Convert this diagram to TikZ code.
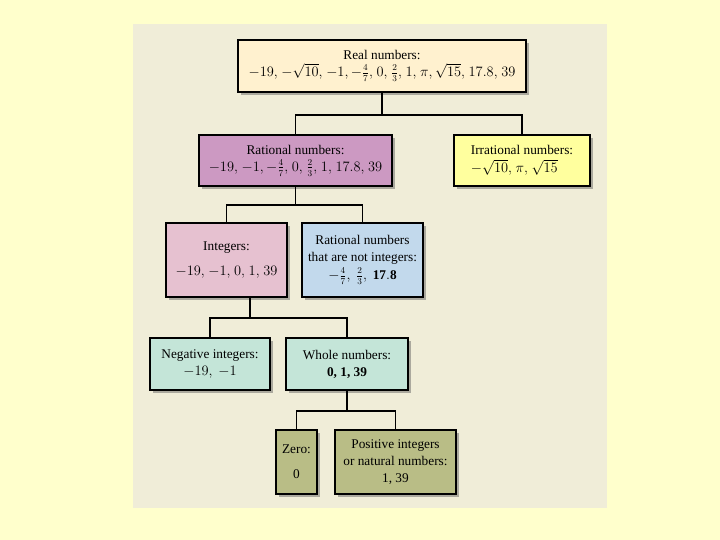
\documentclass[tikz,border=0pt]{standalone}
\usepackage{amsmath}
\usepackage{fontspec}
\setmainfont{Liberation Serif}
\usetikzlibrary{shadows}
\newcommand{\cma}{,\mskip1.5mu}
\definecolor{pagebg}{HTML}{FFFFCC}
\definecolor{panel}{HTML}{F0EDD8}
\definecolor{shadowc}{HTML}{ABA99E}
\definecolor{cReal}{HTML}{FFF1CF}
\definecolor{cRat}{HTML}{CC99C2}
\definecolor{cIrr}{HTML}{FFFF9E}
\definecolor{cInt}{HTML}{E6C1D0}
\definecolor{cRni}{HTML}{C2D9EC}
\definecolor{cWhole}{HTML}{C4E5D8}
\definecolor{cZero}{HTML}{B9BD86}
\tikzset{
  box/.style={draw=black, line width=1.4pt, rectangle, inner sep=0pt, align=center,
    font=\fontsize{13.3}{17}\selectfont,
    drop shadow={shadow xshift=3pt, shadow yshift=-3pt, fill=shadowc, opacity=1}},
  link/.style={draw=black, line width=1.4pt}
}
\begin{document}
\begin{tikzpicture}[x=1pt,y=1pt]
\fill[pagebg] (0,0) rectangle (720,-540);
\useasboundingbox (0,0) rectangle (720,-540);
\fill[panel] (133,-24) rectangle (607,-508);

\node[box, fill=cReal, minimum width=288pt, minimum height=52pt] (real) at (382,-66)
  {Real numbers:\\ $-19\cma -\sqrt{10}\cma -1,-\tfrac{4}{7}\cma 0\cma \tfrac{2}{3}\cma 1\cma \pi,\sqrt{15}\cma 17.8\cma 39$};
\node[box, fill=cRat, minimum width=193pt, minimum height=51pt] (rat) at (295.5,-160.5)
  {Rational numbers:\\ $-19\cma -1,-\tfrac{4}{7}\cma 0\cma \tfrac{2}{3}\cma 1\cma 17.8\cma 39$};
\node[box, fill=cIrr, minimum width=136pt, minimum height=51pt] (irr) at (522,-160.5)
  {\begin{tabular}{@{}l@{}}Irrational numbers:\\ $-\sqrt{10}\cma \pi\cma \sqrt{15}$\end{tabular}};
\node[box, fill=cInt, minimum width=121pt, minimum height=74pt] (int) at (226.5,-260)
  {Integers:\\[8pt] $-19\cma -1\cma 0\cma 1\cma 39$};
\node[box, fill=cRni, minimum width=121pt, minimum height=74pt] (rni) at (362.5,-260)
  {Rational numbers\\ that are not integers:\\[1pt] $-\tfrac{4}{7},\ \tfrac{2}{3},\ \mathbf{17.8}$};
\node[box, fill=cWhole, minimum width=120pt, minimum height=52pt] (neg) at (210,-364)
  {Negative integers:\\ $-19,\ -1$};
\node[box, fill=cWhole, minimum width=122pt, minimum height=52pt] (whole) at (347,-364)
  {Whole numbers:\\ \textbf{0, 1, 39}};
\node[box, fill=cZero, minimum width=41pt, minimum height=64pt] (zero) at (296.5,-462)
  {Zero:\\[8pt] 0};
\node[box, fill=cZero, minimum width=121pt, minimum height=64pt] (pos) at (395.5,-462)
  {Positive integers\\ or natural numbers:\\ 1, 39};

\coordinate (j1) at (382,-115);
\coordinate (j2) at (295.5,-205);
\coordinate (j3) at (250,-318);
\coordinate (j4) at (347,-411);

\draw[link] (real.south) -- (j1);
\draw[link] (rat.north) |- (j1) -| (irr.north);
\draw[link] (rat.south) -- (j2);
\draw[link] (int.north) |- (j2) -| (rni.north);
\draw[link] ([xshift=23.5pt]int.south) -- (j3);
\draw[link] (neg.north) |- (j3) -| (whole.north);
\draw[link] (whole.south) -- (j4);
\draw[link] (zero.north) |- (j4) -| (pos.north);
\end{tikzpicture}
\end{document}
